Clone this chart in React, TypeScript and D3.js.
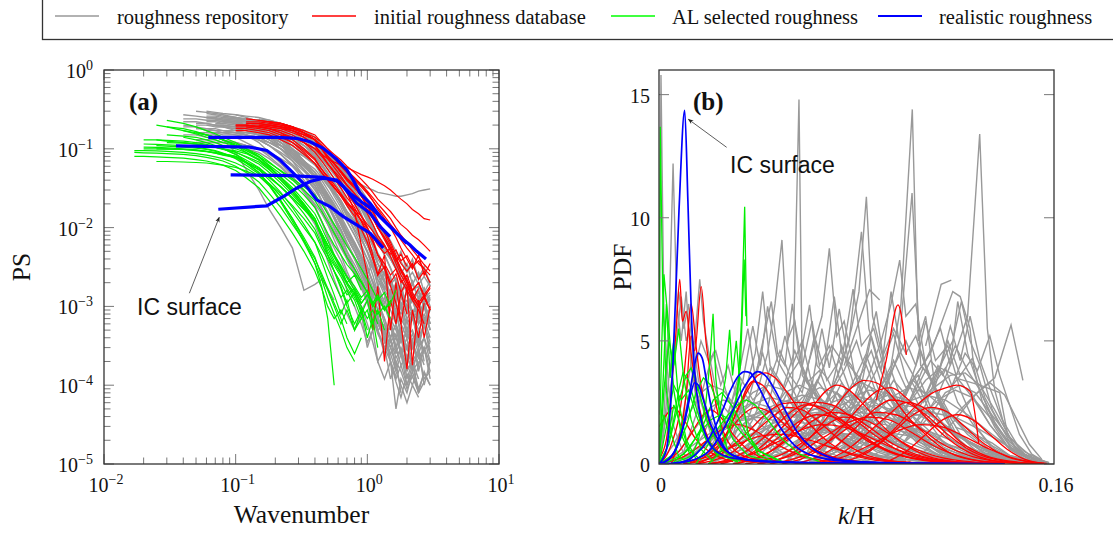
import React from 'react';
import * as d3 from 'd3';

// ---------------- legend ----------------
const legendLabels = ['roughness repository', 'initial roughness database', 'AL selected roughness', 'realistic roughness'];
const legendColors = ['#999999', '#ff0000', '#00ff00', '#0000ff'];

// ---------------- panel (a): power spectra ----------------
const wavenumbers = [0.017, 0.02, 0.025, 0.03, 0.04, 0.05, 0.06, 0.07, 0.08, 0.1, 0.12, 0.15, 0.18, 0.22, 0.27, 0.33, 0.4, 0.45, 0.5, 0.56, 0.63, 0.7, 0.8, 0.9, 1.0, 1.1, 1.2, 1.35, 1.5, 1.65, 1.8, 2.0, 2.2, 2.45, 2.7, 3.0];

type GridCurve = { s: number; v: number[] };

const psGray: GridCurve[] = [
  { s: 4, v: [0.27, 0.26, 0.25, 0.24, 0.23, 0.22, 0.2, 0.18, 0.16, 0.13, 0.1, 0.07, 0.05, 0.04, 0.03, 0.022, 0.016, 0.012, 0.008, 0.0055, 0.004, 0.003, 0.0022, 0.0016, 0.0012, 0.0008, 0.0011, 0.0007, 0.0009, 0.0006, 0.0008, 0.0005] },
  { s: 5, v: [0.3, 0.29, 0.28, 0.27, 0.25, 0.23, 0.2, 0.17, 0.14, 0.11, 0.085, 0.065, 0.05, 0.038, 0.028, 0.02, 0.014, 0.0095, 0.007, 0.005, 0.0035, 0.0025, 0.0018, 0.0013, 0.0009, 0.0006, 0.0004, 0.0005, 0.0003, 0.0004, 0.00025] },
  { s: 6, v: [0.25, 0.25, 0.24, 0.23, 0.22, 0.2, 0.17, 0.14, 0.1, 0.07, 0.045, 0.03, 0.02, 0.013, 0.008, 0.005, 0.003, 0.002, 0.0012, 0.0008, 0.0005, 0.0003, 0.0002, 0.00012, 0.00018, 0.0001, 0.00015, 0.00008] },
  { s: 4, v: [0.22, 0.22, 0.21, 0.2, 0.19, 0.17, 0.15, 0.12, 0.09, 0.065, 0.045, 0.03, 0.02, 0.015, 0.011, 0.008, 0.0055, 0.004, 0.0025, 0.0018, 0.0013, 0.0009, 0.0007, 0.0005, 0.0003, 0.0004, 0.00025, 0.00015, 0.0002, 0.00012] },
  { s: 7, v: [0.24, 0.24, 0.23, 0.22, 0.21, 0.19, 0.17, 0.14, 0.11, 0.08, 0.06, 0.048, 0.038, 0.028, 0.02, 0.015, 0.01, 0.007, 0.005, 0.0035, 0.0025, 0.0018, 0.0015, 0.001, 0.0012, 0.0008, 0.001, 0.0007, 0.0009] },
  { s: 8, v: [0.26, 0.25, 0.24, 0.23, 0.21, 0.19, 0.16, 0.13, 0.1, 0.08, 0.065, 0.05, 0.04, 0.03, 0.023, 0.017, 0.012, 0.009, 0.007, 0.005, 0.004, 0.003, 0.0025, 0.002, 0.0016, 0.0018, 0.0013, 0.0015] },
  { s: 9, v: [0.2, 0.2, 0.19, 0.18, 0.16, 0.13, 0.1, 0.075, 0.05, 0.04, 0.03, 0.02, 0.014, 0.009, 0.006, 0.004, 0.0025, 0.0015, 0.001, 0.0006, 0.0004, 0.0005, 0.0003, 0.00018, 0.00025, 0.00012, 0.00015] },
  { s: 5, v: [0.18, 0.18, 0.17, 0.17, 0.16, 0.15, 0.13, 0.11, 0.085, 0.06, 0.04, 0.027, 0.018, 0.013, 0.009, 0.006, 0.004, 0.0026, 0.0017, 0.0011, 0.0007, 0.00045, 0.0003, 0.0004, 0.00022, 0.0003, 0.00016, 0.0002] },
  { s: 10, v: [0.22, 0.22, 0.21, 0.2, 0.19, 0.17, 0.14, 0.11, 0.09, 0.07, 0.055, 0.04, 0.03, 0.022, 0.016, 0.011, 0.008, 0.006, 0.004, 0.003, 0.0022, 0.0016, 0.0012, 0.0015, 0.001, 0.0012] },
  { s: 6, v: [0.2, 0.2, 0.2, 0.19, 0.18, 0.16, 0.14, 0.11, 0.08, 0.055, 0.035, 0.022, 0.015, 0.01, 0.0065, 0.0042, 0.0028, 0.0018, 0.0012, 0.0008, 0.0005, 0.0006, 0.00035, 0.00045, 0.00025, 0.0003, 0.0002, 0.00028, 0.00018] },
  { s: 4, v: [0.2, 0.19, 0.17, 0.15, 0.13, 0.09, 0.055, 0.03, 0.017, 0.01, 0.0055, 0.0016, 0.0019, 0.0022, 0.0017, 0.0012] },
  { s: 6, v: [0.28, 0.27, 0.26, 0.25, 0.23, 0.2, 0.17, 0.13, 0.1, 0.07, 0.05, 0.034, 0.026, 0.019, 0.013, 0.009, 0.0065, 0.0045, 0.003, 0.002, 0.0012, 0.0006, 0.0002, 0.00005, 0.00012, 0.00008, 0.00015] },
  { s: 7, v: [0.23, 0.22, 0.21, 0.2, 0.18, 0.15, 0.12, 0.09, 0.065, 0.045, 0.03, 0.022, 0.016, 0.011, 0.0075, 0.005, 0.0032, 0.002, 0.0012, 0.0007, 0.0004, 0.0002, 0.00011, 0.00007, 0.00014, 0.0001, 0.00018] },
  { s: 5, v: [0.16, 0.16, 0.16, 0.15, 0.15, 0.14, 0.13, 0.11, 0.09, 0.07, 0.052, 0.038, 0.028, 0.022, 0.016, 0.012, 0.0085, 0.006, 0.0042, 0.003, 0.0021, 0.0015, 0.001, 0.0007, 0.0005, 0.00035, 0.00045, 0.0003, 0.0004, 0.00028, 0.00035] },
  { s: 9, v: [0.25, 0.24, 0.23, 0.22, 0.2, 0.18, 0.15, 0.12, 0.095, 0.075, 0.06, 0.045, 0.035, 0.026, 0.019, 0.014, 0.01, 0.0075, 0.0055, 0.004, 0.003, 0.0022, 0.0017, 0.0013, 0.0016, 0.0011, 0.0014] },
  { s: 8, v: [0.22, 0.21, 0.2, 0.19, 0.17, 0.15, 0.13, 0.11, 0.09, 0.075, 0.063, 0.055, 0.05, 0.045, 0.04, 0.035, 0.032, 0.03, 0.028, 0.027, 0.026, 0.025, 0.025, 0.026, 0.027, 0.029, 0.03, 0.031] },
  { s: 5, v: [0.15, 0.15, 0.15, 0.14, 0.14, 0.12, 0.1, 0.08, 0.06, 0.042, 0.028, 0.018, 0.012, 0.008, 0.0055, 0.0038, 0.0025, 0.0016, 0.001, 0.0006, 0.00035, 0.0002, 0.00012, 0.0002, 0.00013] },
  { s: 10, v: [0.19, 0.19, 0.18, 0.17, 0.15, 0.13, 0.11, 0.085, 0.065, 0.05, 0.038, 0.028, 0.02, 0.014, 0.01, 0.007, 0.0048, 0.0033, 0.0022, 0.0015, 0.001, 0.0006, 0.0008, 0.0005, 0.0007, 0.0004] },
  { s: 6, v: [0.3, 0.29, 0.28, 0.27, 0.25, 0.22, 0.19, 0.15, 0.12, 0.09, 0.065, 0.045, 0.035, 0.027, 0.02, 0.015, 0.011, 0.008, 0.006, 0.0042, 0.003, 0.0021, 0.0015, 0.0011, 0.0008, 0.001, 0.0007, 0.0009, 0.0006] },
  { s: 7, v: [0.21, 0.21, 0.2, 0.19, 0.17, 0.14, 0.11, 0.08, 0.055, 0.038, 0.026, 0.019, 0.013, 0.009, 0.006, 0.004, 0.0026, 0.0017, 0.0011, 0.0007, 0.00045, 0.0003, 0.0002, 0.00015, 0.00009, 0.00013, 0.00008, 0.00011] },
  { s: 11, v: [0.24, 0.23, 0.21, 0.19, 0.16, 0.13, 0.1, 0.08, 0.065, 0.05, 0.038, 0.028, 0.02, 0.015, 0.011, 0.008, 0.006, 0.0043, 0.0031, 0.0022, 0.0016, 0.0019, 0.0013, 0.0017, 0.0012] },
  { s: 4, v: [0.24, 0.24, 0.23, 0.23, 0.22, 0.21, 0.19, 0.16, 0.13, 0.1, 0.07, 0.045, 0.03, 0.022, 0.015, 0.01, 0.0068, 0.0045, 0.003, 0.002, 0.0013, 0.0009, 0.0006, 0.0004, 0.00025, 0.0003, 0.00018, 0.00024, 0.00015, 0.0002] },
  { s: 8, v: [0.17, 0.17, 0.16, 0.16, 0.15, 0.14, 0.12, 0.1, 0.08, 0.062, 0.048, 0.037, 0.028, 0.021, 0.015, 0.011, 0.008, 0.0058, 0.004, 0.0029, 0.002, 0.0014, 0.0017, 0.001, 0.0013, 0.0008, 0.0011, 0.0007] },
  { s: 9, v: [0.14, 0.14, 0.13, 0.12, 0.11, 0.095, 0.08, 0.065, 0.05, 0.04, 0.03, 0.022, 0.016, 0.011, 0.0075, 0.005, 0.0033, 0.0022, 0.0014, 0.0009, 0.0006, 0.0004, 0.00028, 0.00035, 0.00022, 0.0003, 0.00019] },
  { s: 6, v: [0.12, 0.12, 0.12, 0.12, 0.11, 0.1, 0.09, 0.075, 0.06, 0.045, 0.032, 0.022, 0.016, 0.011, 0.0075, 0.005, 0.0034, 0.0023, 0.0015, 0.001, 0.00065, 0.0004, 0.00025, 0.00015, 0.0001, 0.00006, 0.0001, 0.00007] },
  { s: 12, v: [0.2, 0.19, 0.17, 0.15, 0.12, 0.1, 0.08, 0.065, 0.052, 0.042, 0.033, 0.025, 0.019, 0.014, 0.01, 0.0075, 0.0055, 0.004, 0.003, 0.0022, 0.0027, 0.0019, 0.0024, 0.0018] },
  { s: 5, v: [0.2, 0.2, 0.19, 0.19, 0.18, 0.17, 0.15, 0.13, 0.11, 0.09, 0.07, 0.055, 0.043, 0.034, 0.027, 0.021, 0.016, 0.012, 0.009, 0.0065, 0.0048, 0.0035, 0.0026, 0.0019, 0.0023, 0.0015, 0.0019, 0.0012, 0.0016, 0.001, 0.0013] },
  { s: 7, v: [0.19, 0.19, 0.18, 0.17, 0.15, 0.13, 0.1, 0.075, 0.055, 0.04, 0.03, 0.022, 0.016, 0.011, 0.0075, 0.005, 0.0032, 0.0018, 0.001, 0.0005, 0.00025, 0.0004, 0.00015, 0.00025, 0.0001, 0.00018, 0.00009, 0.00014, 0.0001] },
  { s: 6, v: [0.22, 0.22, 0.21, 0.2, 0.19, 0.17, 0.15, 0.12, 0.095, 0.07, 0.05, 0.036, 0.027, 0.02, 0.014, 0.01, 0.0065, 0.004, 0.0025, 0.0015, 0.0009, 0.0005, 0.0003, 0.00018, 0.0003, 0.00012, 0.0002, 0.00008, 0.00015, 0.0001] },
  { s: 8, v: [0.25, 0.24, 0.23, 0.22, 0.2, 0.18, 0.16, 0.14, 0.12, 0.1, 0.085, 0.07, 0.058, 0.048, 0.038, 0.03, 0.023, 0.017, 0.012, 0.008, 0.0055, 0.0035, 0.005, 0.0028, 0.004, 0.0022, 0.0032, 0.0018] },
  { s: 10, v: [0.21, 0.21, 0.2, 0.19, 0.17, 0.15, 0.12, 0.095, 0.075, 0.06, 0.045, 0.033, 0.023, 0.015, 0.0095, 0.006, 0.0035, 0.0022, 0.0013, 0.0008, 0.0005, 0.0003, 0.00045, 0.00025, 0.0004, 0.0002] },
  { s: 4, v: [0.19, 0.19, 0.18, 0.18, 0.17, 0.16, 0.15, 0.13, 0.11, 0.085, 0.063, 0.046, 0.034, 0.026, 0.019, 0.014, 0.0095, 0.0065, 0.0042, 0.0028, 0.0018, 0.0011, 0.0007, 0.0004, 0.00055, 0.0003, 0.00045, 0.00022, 0.00035, 0.00018, 0.0003, 0.00015] },
  { s: 9, v: [0.27, 0.26, 0.25, 0.23, 0.21, 0.18, 0.15, 0.12, 0.1, 0.082, 0.068, 0.055, 0.045, 0.036, 0.028, 0.021, 0.015, 0.011, 0.0075, 0.005, 0.0033, 0.0022, 0.0015, 0.0021, 0.0012, 0.0017, 0.001] },
  { s: 11, v: [0.18, 0.18, 0.17, 0.16, 0.14, 0.12, 0.1, 0.082, 0.067, 0.055, 0.044, 0.035, 0.027, 0.021, 0.016, 0.012, 0.009, 0.0068, 0.005, 0.0037, 0.0027, 0.0035, 0.0024, 0.003, 0.002] },
  { s: 6, v: [0.17, 0.17, 0.16, 0.16, 0.15, 0.14, 0.12, 0.1, 0.08, 0.06, 0.045, 0.033, 0.025, 0.018, 0.013, 0.009, 0.006, 0.004, 0.0026, 0.0017, 0.0011, 0.0007, 0.0004, 0.0006, 0.00035, 0.0005, 0.0003, 0.00045, 0.00025] },
  { s: 12, v: [0.17, 0.16, 0.15, 0.13, 0.11, 0.09, 0.07, 0.055, 0.043, 0.033, 0.025, 0.018, 0.013, 0.0092, 0.0065, 0.0045, 0.003, 0.002, 0.0013, 0.0009, 0.0012, 0.0007, 0.001, 0.0006] },
  { s: 5, v: [0.13, 0.13, 0.13, 0.12, 0.12, 0.11, 0.1, 0.085, 0.068, 0.05, 0.036, 0.025, 0.017, 0.011, 0.007, 0.0045, 0.0028, 0.0017, 0.0009, 0.0012, 0.0005, 0.0008, 0.00035, 0.0006, 0.00025, 0.0004, 0.00018, 0.0003] },
  { s: 9, v: [0.16, 0.16, 0.15, 0.14, 0.12, 0.1, 0.08, 0.062, 0.048, 0.038, 0.029, 0.022, 0.016, 0.012, 0.0085, 0.006, 0.0042, 0.0029, 0.002, 0.0014, 0.001, 0.0007, 0.0005, 0.0007, 0.0004, 0.0006, 0.00035] },
  { s: 7, v: [0.2, 0.2, 0.19, 0.18, 0.16, 0.14, 0.11, 0.085, 0.062, 0.045, 0.032, 0.023, 0.016, 0.011, 0.0075, 0.005, 0.0033, 0.0021, 0.0013, 0.0018, 0.0009, 0.0014, 0.0006, 0.001, 0.0004, 0.0008, 0.0003, 0.0006, 0.00025] },
  { s: 8, v: [0.23, 0.22, 0.21, 0.2, 0.18, 0.16, 0.13, 0.1, 0.075, 0.055, 0.04, 0.029, 0.021, 0.015, 0.0105, 0.0072, 0.0048, 0.0031, 0.0019, 0.0011, 0.0016, 0.0007, 0.0011, 0.0005, 0.0008, 0.00035, 0.0006, 0.00028] },
  { s: 6, v: [0.24, 0.24, 0.23, 0.22, 0.2, 0.18, 0.15, 0.12, 0.09, 0.065, 0.046, 0.033, 0.024, 0.017, 0.012, 0.0082, 0.0055, 0.0036, 0.0023, 0.0014, 0.0009, 0.0013, 0.0006, 0.0009, 0.0004, 0.0007, 0.0003, 0.0005, 0.0002] },
  { s: 9, v: [0.22, 0.22, 0.21, 0.19, 0.17, 0.14, 0.11, 0.085, 0.065, 0.05, 0.037, 0.027, 0.019, 0.013, 0.009, 0.006, 0.0039, 0.0025, 0.0016, 0.0022, 0.0011, 0.0017, 0.0008, 0.0013, 0.0006, 0.001, 0.0005] },
  { s: 10, v: [0.18, 0.18, 0.17, 0.16, 0.14, 0.12, 0.095, 0.072, 0.055, 0.042, 0.031, 0.022, 0.015, 0.01, 0.0065, 0.0042, 0.0027, 0.0017, 0.0024, 0.0012, 0.0019, 0.0009, 0.0015, 0.0007, 0.0012, 0.0006] },
  { s: 5, v: [0.21, 0.21, 0.2, 0.2, 0.19, 0.18, 0.16, 0.14, 0.11, 0.085, 0.063, 0.046, 0.034, 0.025, 0.018, 0.013, 0.009, 0.006, 0.004, 0.0026, 0.0035, 0.0018, 0.0027, 0.0013, 0.002, 0.001, 0.0016, 0.0008, 0.0013, 0.0006, 0.001] },
  { s: 7, v: [0.16, 0.16, 0.15, 0.15, 0.14, 0.12, 0.1, 0.08, 0.06, 0.043, 0.03, 0.021, 0.014, 0.0095, 0.0062, 0.004, 0.0026, 0.0017, 0.0011, 0.0007, 0.00045, 0.0007, 0.0003, 0.0005, 0.0002, 0.0004, 0.00015, 0.0003, 0.00012] },
  { s: 11, v: [0.2, 0.2, 0.19, 0.17, 0.15, 0.12, 0.095, 0.075, 0.058, 0.045, 0.034, 0.025, 0.018, 0.013, 0.0092, 0.0065, 0.0045, 0.0031, 0.0021, 0.0014, 0.0009, 0.0013, 0.0007, 0.0011, 0.0006] },
  { s: 8, v: [0.19, 0.19, 0.18, 0.17, 0.15, 0.13, 0.11, 0.085, 0.065, 0.048, 0.035, 0.025, 0.018, 0.012, 0.008, 0.0052, 0.0033, 0.002, 0.0012, 0.0007, 0.0004, 0.0006, 0.00025, 0.0004, 0.00015, 0.0003, 0.0001, 0.0002] },
  { s: 6, v: [0.26, 0.26, 0.25, 0.24, 0.22, 0.2, 0.17, 0.14, 0.11, 0.085, 0.065, 0.05, 0.038, 0.029, 0.022, 0.016, 0.012, 0.0085, 0.006, 0.0042, 0.0029, 0.002, 0.0014, 0.0019, 0.001, 0.0015, 0.0008, 0.0012, 0.0006, 0.0009] },
  { s: 9, v: [0.2, 0.2, 0.19, 0.18, 0.16, 0.14, 0.12, 0.095, 0.075, 0.06, 0.047, 0.036, 0.027, 0.02, 0.014, 0.01, 0.0068, 0.0045, 0.003, 0.002, 0.0013, 0.0019, 0.0009, 0.0014, 0.0007, 0.0011, 0.0005] },
  { s: 10, v: [0.23, 0.23, 0.22, 0.21, 0.19, 0.17, 0.14, 0.11, 0.09, 0.072, 0.057, 0.045, 0.035, 0.027, 0.02, 0.015, 0.011, 0.0078, 0.0055, 0.0038, 0.0026, 0.0035, 0.0019, 0.0027, 0.0015, 0.0021] },
  { s: 4, v: [0.15, 0.15, 0.14, 0.14, 0.13, 0.12, 0.1, 0.08, 0.06, 0.042, 0.028, 0.018, 0.011, 0.0065, 0.0038, 0.0022, 0.0013, 0.0008, 0.0005, 0.0008, 0.0003, 0.0005] },
  { s: 5, v: [0.12, 0.12, 0.12, 0.11, 0.11, 0.1, 0.09, 0.075, 0.058, 0.042, 0.029, 0.019, 0.012, 0.0075, 0.0045, 0.0027, 0.0016, 0.001, 0.0006, 0.00035, 0.0005, 0.0002, 0.0003, 0.00012, 0.0002, 0.00008] },
];

const psRed: GridCurve[] = [
  { s: 9, v: [0.2, 0.2, 0.19, 0.18, 0.16, 0.14, 0.12, 0.1, 0.085, 0.075, 0.068, 0.062, 0.058, 0.052, 0.047, 0.044, 0.041, 0.038, 0.034, 0.03, 0.026, 0.023, 0.02, 0.017, 0.015, 0.013, 0.0125] },
  { s: 10, v: [0.22, 0.22, 0.21, 0.2, 0.18, 0.16, 0.13, 0.11, 0.09, 0.075, 0.06, 0.05, 0.04, 0.033, 0.027, 0.022, 0.018, 0.014, 0.011, 0.009, 0.007, 0.0055, 0.0045, 0.0035, 0.003, 0.0025] },
  { s: 9, v: [0.2, 0.2, 0.19, 0.18, 0.16, 0.13, 0.1, 0.075, 0.055, 0.045, 0.035, 0.027, 0.021, 0.016, 0.012, 0.009, 0.0065, 0.0045, 0.0035, 0.0025, 0.003, 0.002, 0.0025, 0.0016, 0.002, 0.0014, 0.0018] },
  { s: 11, v: [0.23, 0.22, 0.21, 0.19, 0.16, 0.13, 0.1, 0.08, 0.065, 0.052, 0.042, 0.034, 0.027, 0.021, 0.016, 0.012, 0.0085, 0.006, 0.0042, 0.003, 0.0022, 0.0016, 0.002, 0.0013, 0.0017] },
  { s: 10, v: [0.19, 0.19, 0.18, 0.17, 0.15, 0.12, 0.09, 0.07, 0.055, 0.042, 0.032, 0.024, 0.018, 0.012, 0.008, 0.0045, 0.0025, 0.0045, 0.0005, 0.002, 0.0006, 0.0018, 0.00018, 0.0012, 0.0004, 0.001] },
  { s: 12, v: [0.2, 0.19, 0.18, 0.16, 0.13, 0.1, 0.08, 0.064, 0.05, 0.04, 0.032, 0.025, 0.019, 0.014, 0.01, 0.0075, 0.0055, 0.004, 0.0028, 0.002, 0.0014, 0.001, 0.0013, 0.0009] },
  { s: 9, v: [0.18, 0.18, 0.17, 0.16, 0.14, 0.12, 0.09, 0.065, 0.05, 0.04, 0.032, 0.026, 0.021, 0.017, 0.014, 0.011, 0.009, 0.0072, 0.0058, 0.0046, 0.0052, 0.0038, 0.0044, 0.0032, 0.0038, 0.003] },
  { s: 11, v: [0.21, 0.2, 0.19, 0.17, 0.14, 0.11, 0.085, 0.065, 0.05, 0.038, 0.028, 0.016, 0.006, 0.0025, 0.0005, 0.0018, 0.0002, 0.0012, 0.0006, 0.0015, 0.0008] },
  { s: 10, v: [0.24, 0.23, 0.22, 0.21, 0.19, 0.16, 0.13, 0.1, 0.08, 0.065, 0.05, 0.04, 0.032, 0.025, 0.019, 0.014, 0.01, 0.007, 0.005, 0.0035, 0.0025, 0.0018, 0.0013, 0.001, 0.0013, 0.0009] },
  { s: 13, v: [0.15, 0.14, 0.12, 0.1, 0.08, 0.065, 0.052, 0.042, 0.034, 0.027, 0.022, 0.017, 0.013, 0.01, 0.0075, 0.0055, 0.004, 0.0029, 0.0021, 0.0015, 0.0011, 0.0014, 0.0009] },
  { s: 9, v: [0.17, 0.17, 0.16, 0.15, 0.13, 0.11, 0.085, 0.065, 0.05, 0.04, 0.032, 0.025, 0.02, 0.016, 0.0125, 0.0098, 0.0076, 0.006, 0.0047, 0.0055, 0.0038, 0.0046, 0.0032] },
  { s: 11, v: [0.2, 0.2, 0.19, 0.18, 0.16, 0.14, 0.12, 0.1, 0.085, 0.072, 0.06, 0.05, 0.041, 0.034, 0.028, 0.023, 0.019, 0.016, 0.013, 0.011, 0.0095, 0.008, 0.007, 0.006, 0.005] },
  { s: 10, v: [0.2, 0.2, 0.19, 0.18, 0.16, 0.14, 0.11, 0.085, 0.065, 0.05, 0.038, 0.028, 0.02, 0.014, 0.01, 0.007, 0.0045, 0.003, 0.0018, 0.0011, 0.0006, 0.00016, 0.0009, 0.0004, 0.0011] },
  { s: 12, v: [0.22, 0.21, 0.19, 0.16, 0.13, 0.1, 0.075, 0.058, 0.045, 0.035, 0.027, 0.02, 0.015, 0.011, 0.008, 0.006, 0.0043, 0.003, 0.0022, 0.0016, 0.0012, 0.0009, 0.0006] },
  { s: 10, v: [0.21, 0.21, 0.2, 0.19, 0.17, 0.15, 0.13, 0.1, 0.08, 0.065, 0.052, 0.042, 0.034, 0.027, 0.021, 0.016, 0.012, 0.009, 0.0065, 0.0045, 0.0035, 0.0028, 0.0035, 0.0022, 0.0028, 0.002] },
  { s: 11, v: [0.19, 0.19, 0.18, 0.17, 0.15, 0.13, 0.11, 0.09, 0.075, 0.062, 0.051, 0.042, 0.035, 0.029, 0.024, 0.02, 0.016, 0.013, 0.01, 0.008, 0.0065, 0.0052, 0.0042, 0.0034, 0.0028] },
  { s: 9, v: [0.19, 0.19, 0.18, 0.17, 0.15, 0.12, 0.095, 0.072, 0.055, 0.043, 0.033, 0.025, 0.019, 0.014, 0.0095, 0.0065, 0.004, 0.0025, 0.0032, 0.002, 0.0026, 0.0015, 0.0021, 0.0012, 0.0017] },
  { s: 12, v: [0.21, 0.2, 0.19, 0.17, 0.15, 0.12, 0.1, 0.08, 0.065, 0.053, 0.043, 0.035, 0.028, 0.022, 0.017, 0.013, 0.01, 0.0075, 0.0055, 0.004, 0.003, 0.0045, 0.0025, 0.0035] },
];

const psGreen: GridCurve[] = [
  { s: 0, v: [0.095, 0.095, 0.094, 0.093, 0.09, 0.087, 0.083, 0.079, 0.075, 0.066, 0.057, 0.045, 0.034, 0.022, 0.013, 0.007, 0.0035, 0.0018, 0.0007, 0.0001] },
  { s: 1, v: [0.115, 0.114, 0.112, 0.11, 0.105, 0.1, 0.095, 0.088, 0.075, 0.062, 0.048, 0.036, 0.025, 0.016, 0.01, 0.0065, 0.0045, 0.003, 0.002, 0.0013, 0.0016, 0.001] },
  { s: 3, v: [0.23, 0.21, 0.19, 0.17, 0.155, 0.14, 0.12, 0.1, 0.08, 0.06, 0.043, 0.03, 0.02, 0.013, 0.0085, 0.006, 0.0042, 0.003, 0.002, 0.0025, 0.0016] },
  { s: 2, v: [0.069, 0.069, 0.068, 0.067, 0.066, 0.064, 0.062, 0.058, 0.052, 0.045, 0.036, 0.027, 0.019, 0.013, 0.0085, 0.0055, 0.004, 0.0028, 0.002, 0.0014, 0.0017, 0.0012] },
  { s: 3, v: [0.19, 0.18, 0.165, 0.15, 0.14, 0.13, 0.115, 0.1, 0.085, 0.068, 0.052, 0.04, 0.03, 0.022, 0.016, 0.012, 0.0085, 0.006, 0.0042, 0.003, 0.0021, 0.0015, 0.001, 0.0013, 0.0009, 0.0012] },
  { s: 0, v: [0.08, 0.08, 0.079, 0.078, 0.076, 0.073, 0.07, 0.066, 0.062, 0.053, 0.043, 0.032, 0.022, 0.014, 0.0085, 0.005, 0.0028, 0.0017, 0.001, 0.0007, 0.0009, 0.0006] },
  { s: 1, v: [0.105, 0.104, 0.103, 0.1, 0.097, 0.093, 0.088, 0.083, 0.077, 0.066, 0.055, 0.043, 0.033, 0.024, 0.017, 0.012, 0.0085, 0.006, 0.0045, 0.0032, 0.0023, 0.0016, 0.0011, 0.0014] },
  { s: 4, v: [0.14, 0.13, 0.12, 0.11, 0.1, 0.085, 0.072, 0.058, 0.045, 0.033, 0.024, 0.017, 0.012, 0.0085, 0.006, 0.0045, 0.0033, 0.0024, 0.0018, 0.0013, 0.0016, 0.0011, 0.0014, 0.0009] },
  { s: 2, v: [0.2, 0.19, 0.17, 0.155, 0.14, 0.13, 0.12, 0.11, 0.09, 0.072, 0.055, 0.04, 0.028, 0.019, 0.012, 0.0075, 0.0045, 0.0028, 0.0017, 0.001, 0.0006, 0.0009, 0.0005] },
  { s: 3, v: [0.12, 0.118, 0.115, 0.11, 0.105, 0.1, 0.094, 0.087, 0.072, 0.058, 0.044, 0.032, 0.022, 0.015, 0.01, 0.0068, 0.0045, 0.003, 0.002, 0.0014, 0.001, 0.0007, 0.0009, 0.0006] },
  { s: 1, v: [0.1, 0.1, 0.099, 0.098, 0.095, 0.092, 0.088, 0.084, 0.079, 0.068, 0.057, 0.044, 0.033, 0.023, 0.015, 0.0095, 0.006, 0.0045, 0.0033, 0.0024, 0.0017, 0.0012, 0.0007, 0.0009, 0.0005] },
  { s: 4, v: [0.17, 0.16, 0.15, 0.14, 0.13, 0.11, 0.095, 0.078, 0.062, 0.048, 0.036, 0.026, 0.018, 0.012, 0.0085, 0.006, 0.0045, 0.0034, 0.0026, 0.002, 0.0015, 0.0011, 0.0008, 0.001, 0.0007] },
  { s: 2, v: [0.13, 0.125, 0.12, 0.115, 0.11, 0.104, 0.098, 0.091, 0.078, 0.064, 0.05, 0.037, 0.026, 0.018, 0.012, 0.008, 0.0055, 0.0038, 0.0027, 0.0019, 0.0013, 0.0009] },
  { s: 5, v: [0.16, 0.15, 0.14, 0.13, 0.11, 0.095, 0.08, 0.066, 0.053, 0.042, 0.033, 0.026, 0.02, 0.015, 0.011, 0.008, 0.0058, 0.0042, 0.003, 0.0022, 0.0016, 0.0012, 0.0015, 0.001] },
  { s: 0, v: [0.09, 0.089, 0.088, 0.087, 0.085, 0.082, 0.078, 0.074, 0.07, 0.06, 0.05, 0.038, 0.027, 0.018, 0.011, 0.0068, 0.004, 0.0026, 0.0017, 0.0011, 0.0007, 0.0004, 0.00025, 0.0004] },
  { s: 1, v: [0.13, 0.13, 0.128, 0.125, 0.12, 0.114, 0.107, 0.1, 0.085, 0.068, 0.05, 0.034, 0.021, 0.012, 0.0065, 0.0035, 0.0022, 0.0013, 0.0008, 0.0005, 0.0003, 0.0002] },
  { s: 3, v: [0.15, 0.145, 0.14, 0.13, 0.12, 0.11, 0.1, 0.09, 0.074, 0.058, 0.043, 0.03, 0.02, 0.013, 0.008, 0.005, 0.0035, 0.0026, 0.002, 0.0015, 0.0011, 0.0014, 0.001, 0.0013, 0.0009, 0.0011, 0.0016] },
  { s: 2, v: [0.11, 0.108, 0.105, 0.102, 0.098, 0.093, 0.087, 0.08, 0.066, 0.05, 0.035, 0.022, 0.013, 0.0075, 0.0042, 0.0024, 0.0016, 0.001, 0.0006, 0.0009, 0.0005, 0.0007] },
  { s: 2, v: [0.1, 0.1, 0.098, 0.096, 0.093, 0.09, 0.086, 0.08, 0.068, 0.054, 0.04, 0.028, 0.018, 0.011, 0.0065, 0.0038, 0.0023, 0.0014, 0.0008, 0.0012, 0.0005, 0.0009, 0.0004, 0.0007, 0.0003] },
  { s: 4, v: [0.12, 0.115, 0.11, 0.105, 0.1, 0.09, 0.08, 0.068, 0.054, 0.04, 0.028, 0.019, 0.012, 0.0075, 0.0045, 0.0028, 0.0018, 0.0011, 0.0015, 0.0008, 0.0012, 0.0006, 0.0009, 0.0005] },
];

const psBlue: [number, number][][] = [
  [[0.062, 0.14], [0.108, 0.14], [0.205, 0.14], [0.29, 0.136], [0.367, 0.123], [0.46, 0.102], [0.585, 0.0736], [0.7, 0.054], [0.78, 0.0403], [0.88, 0.0273], [1.05, 0.0204], [1.25, 0.0138], [1.49, 0.0103], [1.88, 0.007], [2.11, 0.006], [2.37, 0.005], [2.79, 0.004]],
  [[0.0352, 0.109], [0.128, 0.105], [0.172, 0.095], [0.217, 0.0723], [0.274, 0.049], [0.346, 0.0332], [0.412, 0.0225], [0.52, 0.0185], [0.657, 0.0138], [0.83, 0.0108], [1.05, 0.0085], [1.32, 0.0055]],
  [[0.0916, 0.0466], [0.259, 0.0457], [0.463, 0.0435], [0.603, 0.0384], [0.738, 0.0273], [0.933, 0.0204], [1.11, 0.0168], [1.32, 0.0125], [1.57, 0.0094], [1.99, 0.0063]],
  [[0.0738, 0.0171], [0.172, 0.0189], [0.23, 0.0248], [0.29, 0.0316], [0.367, 0.0384], [0.463, 0.0423], [0.585, 0.0403], [0.657, 0.0332], [0.83, 0.0204], [1.05, 0.0152], [1.25, 0.0103], [1.49, 0.0077]],
];

// ---------------- panel (b): PDF of k/H ----------------
const pdfGray: [number, number][][] = [
  [[0, 2], [0.0008, 15.8], [0.002, 6], [0.004, 3], [0.006, 1.5], [0.01, 0.4], [0.015, 0.1]],
  [[0, 0], [0.002, 2.0], [0.004, 5.5], [0.0057, 12.2], [0.0072, 6.5], [0.009, 5.0], [0.011, 7.0], [0.013, 4.0], [0.016, 2.0], [0.02, 0.8], [0.026, 0.2]],
  [[0.005, 0], [0.009, 1.5], [0.012, 3.5], [0.0145, 5.0], [0.0165, 7.5], [0.018, 5.8], [0.02, 4.6], [0.023, 3.0], [0.027, 1.6], [0.033, 0.6], [0.042, 0.15]],
  [[0.035, 0], [0.045, 1.0], [0.05, 2.0], [0.054, 2.8], [0.0567, 14.8], [0.058, 3.6], [0.062, 3.0], [0.068, 2.0], [0.075, 1.0], [0.085, 0.3], [0.1, 0.05]],
  [[0.07, 0.5], [0.08, 1.5], [0.088, 2.8], [0.094, 4.0], [0.098, 6.5], [0.1026, 14.4], [0.105, 5.0], [0.108, 6.0], [0.112, 3.0], [0.118, 1.5], [0.125, 0.5], [0.135, 0.1]],
  [[0.08, 1.0], [0.09, 2.5], [0.097, 4.5], [0.1025, 11.0], [0.106, 4.0], [0.11, 3.5], [0.116, 1.8], [0.124, 0.6], [0.135, 0.1]],
  [[0.095, 0.5], [0.105, 1.5], [0.113, 2.8], [0.12, 4.5], [0.125, 6.0], [0.1299, 13.4], [0.133, 5.5], [0.136, 3.0], [0.14, 1.5], [0.145, 0.5], [0.152, 0.1]],
  [[0.06, 1.0], [0.068, 2.5], [0.074, 4.0], [0.078, 5.5], [0.081, 7.0], [0.084, 10.85], [0.0865, 6.0], [0.089, 5.0], [0.094, 3.0], [0.1, 1.8], [0.108, 0.8], [0.12, 0.2]],
  [[0.055, 0.8], [0.065, 2.0], [0.072, 3.5], [0.077, 5.0], [0.082, 9.43], [0.085, 5.5], [0.089, 4.0], [0.095, 2.5], [0.102, 1.2], [0.112, 0.4], [0.125, 0.05]],
  [[0.025, 0.3], [0.035, 1.5], [0.04, 3.0], [0.044, 4.5], [0.047, 6.5], [0.0498, 9.1], [0.052, 5.0], [0.055, 5.8], [0.058, 4.0], [0.063, 2.5], [0.07, 1.2], [0.08, 0.4], [0.095, 0.05]],
  [[0.045, 0.6], [0.052, 1.8], [0.058, 3.2], [0.062, 4.6], [0.066, 6.0], [0.069, 8.76], [0.072, 5.2], [0.075, 5.8], [0.079, 3.8], [0.085, 2.2], [0.093, 1.0], [0.105, 0.3], [0.12, 0.05]],
  [[0.07, 1.0], [0.078, 2.2], [0.085, 3.6], [0.09, 5.0], [0.094, 6.5], [0.0975, 8.28], [0.1, 6.0], [0.104, 6.5], [0.108, 4.0], [0.114, 2.5], [0.12, 1.3], [0.13, 0.4], [0.145, 0.05]],
  [[0.03, 1.0], [0.036, 2.5], [0.04, 4.0], [0.0455, 6.6], [0.048, 4.5], [0.051, 4.0], [0.054, 6.5], [0.057, 4.2], [0.061, 6.46], [0.064, 4.0], [0.068, 3.5], [0.075, 2.0], [0.085, 0.8], [0.1, 0.15]],
  [[0.05, 1.0], [0.06, 2.5], [0.066, 3.8], [0.07, 4.8], [0.074, 4.2], [0.0786, 7.1], [0.082, 4.8], [0.087, 5.5], [0.092, 3.5], [0.1, 2.0], [0.11, 0.8], [0.125, 0.15]],
  [[0.108, 4.8], [0.1143, 7.3], [0.1184, 7.47]],
  [[0.1, 3.0], [0.11, 4.5], [0.119, 7.0], [0.122, 6.8], [0.126, 5.5], [0.1275, 3.9], [0.131, 2.5], [0.136, 1.5], [0.142, 0.6], [0.15, 0.1]],
  [[0.12, 2.0], [0.13, 3.0], [0.136, 3.5], [0.1426, 5.64], [0.1474, 3.4]],
  [[0.12, 3.5], [0.13, 3.2], [0.138, 2.9], [0.141, 1.3]],
  [[0.12, 1.5], [0.128, 1.2], [0.135, 0.85], [0.142, 0.35], [0.15, 0.1], [0.156, 0]],
  [[0.075, 4.0], [0.0853, 7.07], [0.0894, 6.66]],
  [[0.02, 0.5], [0.028, 2.0], [0.032, 3.5], [0.036, 5.5], [0.039, 3.5], [0.042, 4.5], [0.046, 3.0], [0.052, 2.0], [0.06, 1.0], [0.07, 0.3], [0.085, 0.05]],
  [[0.04, 0.5], [0.05, 2.0], [0.057, 3.5], [0.062, 5.8], [0.065, 4.0], [0.069, 4.8], [0.073, 3.5], [0.08, 2.2], [0.09, 1.0], [0.1, 0.3], [0.115, 0.05]],
  [[0.06, 0.5], [0.07, 1.8], [0.078, 3.2], [0.084, 4.5], [0.088, 6.2], [0.091, 4.2], [0.095, 5.3], [0.1, 3.5], [0.107, 2.0], [0.115, 0.9], [0.125, 0.25], [0.14, 0.03]],
  [[0.075, 0.6], [0.085, 2.0], [0.093, 3.5], [0.1, 5.0], [0.104, 4.0], [0.108, 5.8], [0.112, 4.2], [0.117, 4.8], [0.122, 3.0], [0.128, 1.6], [0.135, 0.6], [0.145, 0.1]],
  [[0.08, 0.5], [0.09, 1.6], [0.1, 3.0], [0.108, 4.2], [0.114, 5.5], [0.118, 4.0], [0.121, 6.6], [0.125, 4.5], [0.13, 3.0], [0.136, 1.6], [0.143, 0.6], [0.152, 0.1]],
  [[0.01, 0.5], [0.015, 2.0], [0.019, 3.5], [0.022, 4.5], [0.025, 3.2], [0.028, 4.0], [0.032, 2.5], [0.037, 1.5], [0.045, 0.6], [0.055, 0.15]],
  [[0.05, 0.3], [0.06, 1.2], [0.068, 2.6], [0.075, 3.8], [0.08, 5.0], [0.083, 4.0], [0.086, 4.6], [0.09, 3.3], [0.096, 2.2], [0.104, 1.1], [0.115, 0.35], [0.13, 0.05]],
  [[0.065, 0.5], [0.075, 1.5], [0.083, 2.8], [0.09, 4.2], [0.095, 5.5], [0.1, 4.5], [0.104, 5.2], [0.109, 3.6], [0.115, 2.4], [0.122, 1.2], [0.132, 0.4], [0.145, 0.05]],
  [[0.085, 0.5], [0.095, 1.5], [0.104, 3.0], [0.11, 4.2], [0.115, 3.6], [0.12, 4.8], [0.125, 3.8], [0.13, 3.0], [0.136, 1.7], [0.142, 0.8], [0.15, 0.2]],
  [[0.095, 1.0], [0.105, 2.2], [0.113, 3.8], [0.119, 5.0], [0.1225, 6.6], [0.126, 5.0], [0.13, 4.0], [0.135, 2.2], [0.142, 0.9], [0.15, 0.2]],
  [[0.03, 0.5], [0.038, 1.8], [0.044, 3.2], [0.049, 4.6], [0.053, 3.6], [0.057, 4.2], [0.062, 3.0], [0.068, 2.0], [0.077, 0.9], [0.09, 0.25]],
  [[0.045, 0.3], [0.055, 1.5], [0.062, 2.8], [0.067, 4.0], [0.071, 6.8], [0.074, 4.5], [0.078, 4.0], [0.083, 2.6], [0.09, 1.4], [0.1, 0.5], [0.112, 0.1]],
  [[0, 0], [0.008, 0.5], [0.015, 1.5], [0.021, 2.3], [0.026, 2.6], [0.032, 2.4], [0.04, 1.7], [0.05, 0.9], [0.062, 0.35], [0.08, 0.08]],
  [[0.005, 0], [0.015, 0.5], [0.024, 1.4], [0.032, 2.2], [0.038, 2.5], [0.045, 2.3], [0.054, 1.7], [0.064, 1.0], [0.076, 0.4], [0.095, 0.08]],
  [[0.01, 0], [0.022, 0.5], [0.032, 1.4], [0.04, 2.1], [0.047, 2.4], [0.055, 2.2], [0.064, 1.6], [0.075, 0.9], [0.088, 0.35], [0.11, 0.05]],
  [[0.02, 0], [0.032, 0.5], [0.042, 1.3], [0.05, 2.0], [0.057, 2.3], [0.065, 2.2], [0.074, 1.6], [0.085, 0.9], [0.098, 0.35], [0.12, 0.05]],
  [[0.03, 0], [0.042, 0.5], [0.052, 1.4], [0.06, 2.1], [0.067, 2.4], [0.075, 2.2], [0.084, 1.6], [0.095, 0.9], [0.108, 0.35], [0.13, 0.05]],
  [[0.04, 0], [0.052, 0.5], [0.062, 1.3], [0.07, 2.0], [0.077, 2.3], [0.085, 2.2], [0.094, 1.6], [0.105, 0.9], [0.118, 0.35], [0.14, 0.05]],
  [[0.05, 0], [0.062, 0.5], [0.072, 1.3], [0.08, 2.0], [0.087, 2.4], [0.095, 2.2], [0.104, 1.6], [0.115, 0.9], [0.127, 0.35], [0.148, 0.05]],
  [[0.06, 0], [0.072, 0.5], [0.082, 1.3], [0.09, 2.0], [0.097, 2.4], [0.105, 2.3], [0.114, 1.7], [0.124, 1.0], [0.136, 0.4], [0.152, 0.06]],
  [[0.07, 0], [0.082, 0.5], [0.092, 1.2], [0.1, 2.0], [0.107, 2.3], [0.115, 2.2], [0.123, 1.6], [0.132, 0.9], [0.142, 0.35], [0.155, 0.05]],
  [[0.008, 0], [0.02, 0.8], [0.03, 2.0], [0.038, 2.9], [0.044, 3.2], [0.051, 3.0], [0.06, 2.2], [0.07, 1.3], [0.083, 0.5], [0.1, 0.1]],
  [[0.025, 0], [0.04, 0.8], [0.05, 1.8], [0.058, 2.7], [0.065, 3.1], [0.072, 2.9], [0.081, 2.2], [0.091, 1.3], [0.103, 0.5], [0.12, 0.1]],
  [[0.045, 0], [0.06, 0.8], [0.07, 1.8], [0.078, 2.7], [0.085, 3.0], [0.092, 2.9], [0.1, 2.2], [0.11, 1.3], [0.121, 0.5], [0.14, 0.1]],
  [[0.06, 0], [0.075, 0.8], [0.086, 1.9], [0.094, 2.7], [0.101, 3.1], [0.108, 2.9], [0.116, 2.2], [0.125, 1.3], [0.135, 0.5], [0.15, 0.1]],
  [[0, 0], [0.006, 0.8], [0.012, 2.0], [0.017, 2.9], [0.021, 3.2], [0.026, 3.0], [0.032, 2.2], [0.04, 1.2], [0.05, 0.45], [0.065, 0.1]],
  [[0.015, 0], [0.025, 0.4], [0.035, 1.0], [0.045, 1.5], [0.055, 1.7], [0.065, 1.6], [0.075, 1.2], [0.087, 0.7], [0.1, 0.3], [0.12, 0.05]],
  [[0.035, 0], [0.05, 0.4], [0.062, 1.0], [0.073, 1.5], [0.082, 1.7], [0.092, 1.6], [0.102, 1.2], [0.113, 0.7], [0.125, 0.3], [0.145, 0.05]],
  [[0.055, 0], [0.07, 0.4], [0.082, 1.0], [0.093, 1.5], [0.102, 1.7], [0.111, 1.6], [0.12, 1.2], [0.13, 0.7], [0.14, 0.3], [0.155, 0.05]],
  [[0.002, 0], [0.01, 0.5], [0.02, 1.2], [0.03, 1.7], [0.04, 1.9], [0.05, 1.7], [0.06, 1.2], [0.072, 0.6], [0.085, 0.2], [0.1, 0.04]],
  [[0.08, 0], [0.095, 0.8], [0.105, 1.8], [0.113, 2.6], [0.12, 3.0], [0.127, 2.7], [0.134, 1.9], [0.141, 1.0], [0.148, 0.4], [0.156, 0.08]],
  [[0.1, 0], [0.11, 0.7], [0.12, 1.8], [0.128, 2.8], [0.134, 3.3], [0.14, 2.8], [0.145, 1.8], [0.15, 0.8], [0.155, 0.2]],
  [[0.075, 0], [0.09, 1.0], [0.1, 2.3], [0.108, 3.4], [0.114, 3.9], [0.12, 3.6], [0.127, 2.7], [0.134, 1.6], [0.142, 0.6], [0.152, 0.1]],
  [[0.085, 0.5], [0.1, 1.8], [0.11, 3.0], [0.118, 3.6], [0.124, 3.7], [0.13, 3.2], [0.136, 2.2], [0.142, 1.1], [0.148, 0.4], [0.155, 0.05]],
  [[0, 0], [0.002, 1.5], [0.004, 3.5], [0.006, 5.0], [0.008, 7.0], [0.01, 5.5], [0.012, 6.5], [0.014, 4.0], [0.017, 2.5], [0.021, 1.2], [0.027, 0.4], [0.035, 0.1]],
  [[0, 0], [0.003, 2.0], [0.006, 4.0], [0.009, 6.8], [0.011, 5.0], [0.013, 5.6], [0.016, 3.4], [0.02, 2.0], [0.025, 0.9], [0.032, 0.3], [0.04, 0.05]],
  [[0.005, 0], [0.01, 1.8], [0.014, 3.6], [0.017, 5.0], [0.02, 4.2], [0.023, 4.6], [0.027, 3.0], [0.032, 1.6], [0.038, 0.7], [0.046, 0.2]],
  [[0.02, 0], [0.03, 1.2], [0.035, 2.8], [0.04, 2.2], [0.045, 3.9], [0.05, 3.0], [0.055, 4.6], [0.06, 3.3], [0.065, 3.8], [0.07, 2.4], [0.078, 1.6], [0.088, 0.7], [0.1, 0.2], [0.115, 0.03]],
  [[0.03, 0], [0.04, 1.0], [0.048, 2.4], [0.053, 3.6], [0.058, 2.9], [0.063, 5.2], [0.068, 3.4], [0.073, 4.2], [0.078, 2.8], [0.085, 1.9], [0.094, 0.9], [0.105, 0.3], [0.12, 0.05]],
  [[0.04, 0], [0.05, 1.0], [0.058, 2.2], [0.064, 3.4], [0.069, 2.7], [0.074, 4.8], [0.079, 3.2], [0.084, 4.0], [0.089, 2.6], [0.096, 1.8], [0.105, 0.8], [0.116, 0.25], [0.13, 0.04]],
  [[0.05, 0], [0.06, 0.9], [0.068, 2.1], [0.074, 3.3], [0.079, 2.6], [0.084, 4.4], [0.089, 3.0], [0.094, 3.8], [0.099, 2.4], [0.106, 1.5], [0.115, 0.7], [0.126, 0.2], [0.14, 0.03]],
  [[0.06, 0], [0.07, 0.9], [0.078, 2.0], [0.085, 3.2], [0.09, 2.5], [0.095, 4.2], [0.1, 3.1], [0.105, 3.6], [0.11, 2.3], [0.117, 1.4], [0.126, 0.6], [0.137, 0.15], [0.15, 0.02]],
  [[0.07, 0], [0.08, 1.0], [0.088, 2.2], [0.095, 3.4], [0.1, 2.8], [0.106, 4.6], [0.111, 3.2], [0.116, 3.9], [0.121, 2.5], [0.128, 1.5], [0.136, 0.6], [0.145, 0.15], [0.155, 0.02]],
  [[0.01, 0], [0.018, 1.2], [0.024, 2.6], [0.028, 2.1], [0.033, 3.5], [0.038, 2.6], [0.043, 3.1], [0.049, 2.0], [0.056, 1.3], [0.065, 0.6], [0.077, 0.15], [0.09, 0.02]],
  [[0.035, 0.2], [0.045, 1.5], [0.052, 2.9], [0.057, 2.3], [0.062, 3.3], [0.067, 2.4], [0.072, 2.9], [0.078, 1.9], [0.085, 1.2], [0.095, 0.5], [0.108, 0.1]],
  [[0.055, 0.2], [0.065, 1.5], [0.072, 2.9], [0.077, 2.3], [0.082, 3.4], [0.087, 2.5], [0.092, 3.0], [0.098, 2.0], [0.105, 1.2], [0.115, 0.5], [0.128, 0.1]],
  [[0.075, 0.2], [0.085, 1.5], [0.092, 2.9], [0.097, 2.3], [0.102, 3.4], [0.107, 2.5], [0.112, 3.1], [0.118, 2.0], [0.125, 1.2], [0.134, 0.5], [0.146, 0.1]],
  [[0.085, 0.5], [0.095, 1.8], [0.103, 3.4], [0.108, 2.8], [0.113, 4.0], [0.118, 3.1], [0.123, 3.7], [0.128, 2.6], [0.134, 1.6], [0.141, 0.7], [0.15, 0.2], [0.158, 0.02]],
  [[0.09, 0.8], [0.1, 2.2], [0.107, 3.9], [0.112, 3.2], [0.117, 5.0], [0.122, 3.6], [0.127, 4.3], [0.132, 2.7], [0.138, 1.6], [0.145, 0.6], [0.153, 0.1]],
  [[0.045, 0.3], [0.055, 1.6], [0.062, 3.2], [0.066, 5.5], [0.069, 3.9], [0.073, 6.3], [0.077, 4.0], [0.082, 3.4], [0.088, 2.2], [0.096, 1.0], [0.108, 0.3], [0.12, 0.05]],
  [[0.065, 0.3], [0.075, 1.6], [0.082, 3.2], [0.086, 5.2], [0.09, 3.8], [0.094, 7.0], [0.098, 4.5], [0.103, 3.6], [0.109, 2.3], [0.117, 1.1], [0.128, 0.3], [0.14, 0.05]],
  [[0.02, 0.3], [0.028, 1.8], [0.034, 3.4], [0.038, 5.6], [0.041, 4.0], [0.044, 6.4], [0.048, 4.2], [0.053, 3.3], [0.059, 2.0], [0.067, 0.9], [0.078, 0.25], [0.09, 0.04]],
  [[0.1, 1.0], [0.108, 2.4], [0.114, 4.0], [0.118, 5.6], [0.122, 4.2], [0.126, 6.0], [0.13, 4.2], [0.134, 3.1], [0.139, 1.8], [0.145, 0.8], [0.152, 0.2]],
  [[0.11, 1.5], [0.118, 3.0], [0.124, 4.5], [0.129, 3.8], [0.134, 5.2], [0.138, 3.6], [0.142, 2.4], [0.146, 1.2], [0.151, 0.4], [0.157, 0.05]],
  [[0.03, 0], [0.04, 0.9], [0.05, 1.8], [0.06, 2.5], [0.07, 2.2], [0.08, 2.7], [0.09, 2.1], [0.1, 1.5], [0.11, 0.8], [0.12, 0.3], [0.135, 0.05]],
  [[0.015, 0], [0.025, 0.8], [0.035, 1.7], [0.045, 2.2], [0.055, 1.9], [0.065, 2.3], [0.075, 1.7], [0.085, 1.1], [0.095, 0.5], [0.11, 0.1]],
  [[0.05, 0], [0.06, 0.8], [0.07, 1.7], [0.08, 2.4], [0.09, 2.0], [0.1, 2.6], [0.11, 2.0], [0.12, 1.3], [0.13, 0.6], [0.142, 0.15], [0.155, 0.02]],
  [[0.025, 0.2], [0.03, 1.5], [0.035, 3.0], [0.039, 4.5], [0.042, 7.0], [0.045, 4.0], [0.05, 3.2], [0.056, 2.0], [0.065, 0.9], [0.078, 0.2]],
  [[0.035, 0.5], [0.043, 2.0], [0.048, 3.8], [0.051, 5.2], [0.054, 4.0], [0.058, 5.0], [0.062, 3.2], [0.068, 2.0], [0.077, 0.9], [0.09, 0.2]],
  [[0.005, 0], [0.015, 0.6], [0.025, 1.3], [0.035, 1.9], [0.045, 2.2], [0.055, 2.0], [0.065, 1.5], [0.075, 0.9], [0.09, 0.3], [0.11, 0.05]],
  [[0.015, 0], [0.025, 0.5], [0.035, 1.1], [0.045, 1.6], [0.055, 2.0], [0.065, 2.1], [0.075, 1.8], [0.085, 1.3], [0.1, 0.6], [0.12, 0.1]],
  [[0.025, 0], [0.04, 0.7], [0.05, 1.4], [0.06, 1.9], [0.07, 2.2], [0.08, 2.0], [0.09, 1.5], [0.1, 0.9], [0.115, 0.3], [0.135, 0.04]],
  [[0.035, 0], [0.05, 0.6], [0.06, 1.2], [0.07, 1.8], [0.08, 2.1], [0.09, 2.0], [0.1, 1.6], [0.11, 1.0], [0.125, 0.35], [0.145, 0.04]],
  [[0.05, 0], [0.065, 0.7], [0.075, 1.4], [0.085, 1.9], [0.095, 2.2], [0.105, 2.0], [0.115, 1.5], [0.125, 0.9], [0.138, 0.3], [0.155, 0.04]],
  [[0.065, 0], [0.08, 0.6], [0.09, 1.3], [0.1, 1.9], [0.11, 2.1], [0.12, 1.9], [0.13, 1.4], [0.14, 0.8], [0.15, 0.3], [0.158, 0.05]],
  [[0.01, 0], [0.02, 0.9], [0.03, 1.8], [0.037, 2.4], [0.045, 2.7], [0.053, 2.5], [0.062, 1.9], [0.072, 1.1], [0.085, 0.4], [0.1, 0.06]],
  [[0.02, 0], [0.032, 0.9], [0.042, 1.9], [0.05, 2.5], [0.058, 2.8], [0.066, 2.6], [0.075, 2.0], [0.085, 1.2], [0.097, 0.45], [0.115, 0.06]],
  [[0.04, 0], [0.052, 0.9], [0.062, 1.9], [0.07, 2.5], [0.078, 2.8], [0.086, 2.6], [0.095, 2.0], [0.105, 1.2], [0.117, 0.45], [0.135, 0.06]],
  [[0.055, 0], [0.067, 0.9], [0.077, 1.9], [0.085, 2.5], [0.093, 2.8], [0.101, 2.6], [0.11, 2.0], [0.12, 1.2], [0.132, 0.45], [0.15, 0.06]],
  [[0.07, 0], [0.082, 0.9], [0.092, 1.9], [0.1, 2.5], [0.108, 2.8], [0.116, 2.6], [0.125, 2.0], [0.135, 1.2], [0.145, 0.45], [0.158, 0.05]],
  [[0.01, 0], [0.025, 0.3], [0.04, 0.8], [0.055, 1.2], [0.07, 1.3], [0.085, 1.1], [0.1, 0.7], [0.115, 0.3], [0.13, 0.08]],
  [[0.03, 0], [0.045, 0.3], [0.06, 0.8], [0.075, 1.2], [0.09, 1.3], [0.105, 1.1], [0.12, 0.7], [0.135, 0.3], [0.15, 0.06]],
  [[0.02, 0], [0.03, 0.4], [0.04, 1.0], [0.05, 1.4], [0.06, 1.5], [0.07, 1.3], [0.08, 0.9], [0.09, 0.5], [0.1, 0.2], [0.115, 0.03]],
  [[0.06, 0], [0.07, 0.4], [0.08, 1.0], [0.09, 1.4], [0.1, 1.5], [0.11, 1.3], [0.12, 0.9], [0.13, 0.5], [0.14, 0.2], [0.152, 0.03]],
  [[0.045, 0], [0.055, 0.5], [0.063, 1.2], [0.07, 2.0], [0.076, 3.0], [0.082, 3.3], [0.088, 3.0], [0.095, 2.2], [0.103, 1.3], [0.113, 0.5], [0.125, 0.1]],
  [[0.02, 0], [0.03, 0.5], [0.038, 1.2], [0.045, 2.0], [0.051, 2.9], [0.057, 3.2], [0.063, 2.9], [0.07, 2.1], [0.078, 1.2], [0.088, 0.5], [0.1, 0.1]],
  [[0.085, 0], [0.095, 0.5], [0.103, 1.2], [0.11, 2.0], [0.116, 2.9], [0.122, 3.2], [0.128, 2.9], [0.134, 2.1], [0.141, 1.2], [0.148, 0.5], [0.156, 0.1]],
];

const pdfRed: [number, number][][] = [
  [[0, 0.2], [0.003, 1.0], [0.005, 3.0], [0.007, 5.5], [0.0084, 7.5], [0.0095, 5.8], [0.011, 6.2], [0.013, 4.5], [0.015, 3.0], [0.018, 1.6], [0.022, 0.7], [0.03, 0.2], [0.045, 0.05]],
  [[0.005, 0], [0.008, 1.0], [0.011, 2.8], [0.013, 5.2], [0.0145, 4.6], [0.0171, 7.2], [0.019, 5.0], [0.021, 3.6], [0.024, 2.0], [0.028, 0.9], [0.035, 0.3], [0.05, 0.05]],
  [[0, 0], [0.005, 0.8], [0.009, 2.5], [0.011, 4.5], [0.013, 6.5], [0.015, 4.8], [0.017, 3.2], [0.02, 1.8], [0.025, 0.7], [0.035, 0.15]],
  [[0.01, 0], [0.02, 0.4], [0.026, 1.0], [0.031, 2.0], [0.036, 3.0], [0.04, 3.6], [0.043, 3.7], [0.047, 3.5], [0.052, 2.9], [0.058, 2.0], [0.065, 1.2], [0.073, 0.6], [0.085, 0.2], [0.1, 0.06], [0.13, 0.01]],
  [[0.015, 0], [0.022, 0.4], [0.028, 1.3], [0.033, 2.5], [0.038, 3.35], [0.042, 3.2], [0.047, 2.5], [0.053, 1.5], [0.06, 0.7], [0.07, 0.25], [0.09, 0.05]],
  [[0.01, 0], [0.025, 0.4], [0.035, 1.2], [0.043, 2.0], [0.05, 2.45], [0.058, 2.5], [0.066, 2.2], [0.075, 1.6], [0.085, 0.9], [0.1, 0.3], [0.12, 0.07], [0.14, 0.01]],
  [[0.03, 0], [0.045, 0.5], [0.055, 1.4], [0.062, 2.3], [0.068, 3.0], [0.072, 3.2], [0.077, 3.0], [0.083, 2.4], [0.09, 1.6], [0.098, 0.9], [0.108, 0.35], [0.12, 0.1], [0.14, 0.01]],
  [[0.04, 0], [0.055, 0.5], [0.065, 1.5], [0.072, 2.4], [0.078, 3.1], [0.083, 3.4], [0.088, 3.3], [0.094, 2.8], [0.1, 2.0], [0.108, 1.2], [0.117, 0.5], [0.13, 0.12], [0.15, 0.01]],
  [[0.05, 0], [0.065, 0.6], [0.075, 1.6], [0.083, 2.5], [0.089, 3.0], [0.094, 3.1], [0.1, 2.7], [0.107, 2.0], [0.115, 1.2], [0.125, 0.5], [0.135, 0.15], [0.15, 0.02]],
  [[0.08, 0.3], [0.09, 0.9], [0.097, 1.6], [0.104, 2.35], [0.111, 2.9], [0.1164, 3.1], [0.1205, 3.2], [0.126, 2.95], [0.1295, 0.85]],
  [[0.088, 2.6], [0.092, 4.2], [0.0968, 6.46], [0.1002, 4.43]],
  [[0.015, 0], [0.03, 0.5], [0.04, 1.4], [0.047, 2.0], [0.052, 2.3], [0.058, 2.2], [0.065, 1.7], [0.073, 1.0], [0.082, 0.45], [0.095, 0.12], [0.115, 0.02]],
  [[0.02, 0], [0.04, 0.5], [0.05, 1.2], [0.058, 1.8], [0.064, 2.0], [0.071, 1.9], [0.079, 1.4], [0.088, 0.8], [0.1, 0.3], [0.12, 0.05]],
  [[0.02, 0], [0.035, 0.5], [0.045, 1.3], [0.052, 2.0], [0.059, 2.4], [0.066, 2.3], [0.074, 1.8], [0.083, 1.1], [0.093, 0.5], [0.107, 0.15], [0.125, 0.02]],
  [[0.035, 0], [0.05, 0.4], [0.06, 1.0], [0.068, 1.6], [0.075, 1.9], [0.083, 1.8], [0.092, 1.3], [0.102, 0.7], [0.115, 0.25], [0.135, 0.03]],
  [[0.045, 0], [0.06, 0.4], [0.07, 1.0], [0.08, 1.7], [0.088, 2.1], [0.096, 2.0], [0.105, 1.5], [0.115, 0.8], [0.127, 0.3], [0.145, 0.03]],
  [[0.06, 0], [0.075, 0.5], [0.085, 1.3], [0.093, 2.0], [0.1, 2.5], [0.107, 2.3], [0.114, 1.7], [0.122, 0.9], [0.132, 0.35], [0.145, 0.08], [0.157, 0.01]],
  [[0, 0], [0.01, 0.3], [0.02, 1.0], [0.027, 1.5], [0.032, 1.6], [0.038, 1.4], [0.046, 0.9], [0.056, 0.4], [0.07, 0.1], [0.09, 0.02]],
  [[0.005, 0], [0.02, 0.3], [0.032, 0.8], [0.042, 1.15], [0.05, 1.2], [0.06, 1.0], [0.072, 0.6], [0.085, 0.25], [0.1, 0.06]],
  [[0, 0], [0.008, 0.5], [0.014, 1.4], [0.018, 2.0], [0.021, 2.2], [0.025, 1.9], [0.03, 1.2], [0.037, 0.5], [0.047, 0.15], [0.06, 0.03]],
  [[0, 1.5], [0.003, 2.0], [0.006, 2.3], [0.01, 1.8], [0.015, 1.0], [0.022, 0.4], [0.03, 0.1]],
  [[0.025, 0], [0.04, 0.6], [0.05, 1.5], [0.057, 2.2], [0.063, 2.5], [0.07, 2.4], [0.078, 1.9], [0.087, 1.2], [0.097, 0.55], [0.11, 0.15], [0.13, 0.02]],
  [[0.055, 0], [0.07, 0.6], [0.08, 1.5], [0.087, 2.2], [0.094, 2.6], [0.1, 2.5], [0.108, 2.0], [0.117, 1.2], [0.127, 0.5], [0.14, 0.12], [0.155, 0.01]],
  [[0.09, 0], [0.1, 0.5], [0.108, 1.2], [0.115, 1.8], [0.121, 2.0], [0.127, 1.8], [0.134, 1.2], [0.141, 0.6], [0.148, 0.2], [0.156, 0.02]],
  [[0.03, 0], [0.045, 0.5], [0.055, 1.2], [0.063, 1.8], [0.07, 2.1], [0.077, 2.0], [0.085, 1.5], [0.095, 0.8], [0.107, 0.3], [0.125, 0.04]],
  [[0.04, 0], [0.055, 0.4], [0.067, 1.1], [0.077, 1.7], [0.085, 1.9], [0.093, 1.8], [0.102, 1.3], [0.112, 0.7], [0.124, 0.25], [0.14, 0.03]],
  [[0.01, 0], [0.02, 0.5], [0.028, 1.3], [0.034, 2.0], [0.039, 2.3], [0.045, 2.1], [0.052, 1.5], [0.06, 0.8], [0.07, 0.3], [0.085, 0.05]],
  [[0.07, 0], [0.085, 0.5], [0.095, 1.3], [0.103, 2.0], [0.11, 2.3], [0.117, 2.1], [0.124, 1.5], [0.132, 0.8], [0.141, 0.3], [0.152, 0.05]],
  [[0.02, 0], [0.035, 0.3], [0.048, 0.9], [0.058, 1.4], [0.066, 1.6], [0.075, 1.5], [0.085, 1.1], [0.096, 0.6], [0.11, 0.2], [0.13, 0.03]],
  [[0.06, 0], [0.075, 0.3], [0.088, 0.9], [0.098, 1.4], [0.106, 1.6], [0.115, 1.5], [0.124, 1.1], [0.134, 0.6], [0.145, 0.2], [0.157, 0.02]],
];

const pdfGreen: [number, number][][] = [
  [[0, 3], [0.0005, 13.7], [0.0015, 7.0], [0.003, 3.0], [0.005, 1.2], [0.008, 0.3], [0.012, 0.05]],
  [[0, 0], [0.001, 4.5], [0.002, 7.7], [0.004, 5.5], [0.006, 3.0], [0.009, 1.2], [0.013, 0.3]],
  [[0, 0], [0.002, 3.0], [0.004, 5.0], [0.006, 4.0], [0.008, 5.5], [0.01, 3.5], [0.013, 1.8], [0.017, 0.6], [0.022, 0.1]],
  [[0.02, 0], [0.025, 0.5], [0.029, 1.5], [0.032, 3.0], [0.0335, 6.0], [0.0347, 10.45], [0.0352, 7.5], [0.0356, 5.6]],
  [[0.028, 1.5], [0.031, 2.5], [0.033, 4.0], [0.0345, 8.3], [0.0352, 6.0]],
  [[0.012, 0], [0.016, 1.0], [0.019, 2.5], [0.0205, 4.0], [0.0219, 6.1], [0.023, 3.5], [0.025, 1.5], [0.028, 0.5], [0.033, 0.1]],
  [[0.015, 0], [0.02, 0.8], [0.024, 1.8], [0.027, 3.5], [0.0286, 5.45], [0.0298, 3.6], [0.0313, 5.0], [0.033, 3.0], [0.036, 1.3], [0.04, 0.4], [0.046, 0.1]],
  [[0, 0], [0.003, 0.6], [0.006, 1.8], [0.008, 3.0], [0.0097, 3.7], [0.012, 3.4], [0.015, 2.3], [0.019, 1.1], [0.024, 0.4], [0.032, 0.08]],
  [[0.005, 0], [0.015, 0.4], [0.022, 1.2], [0.028, 2.0], [0.033, 2.5], [0.0354, 2.6], [0.039, 2.4], [0.044, 1.8], [0.05, 1.0], [0.057, 0.4], [0.065, 0.1]],
  [[0, 0], [0.006, 0.4], [0.011, 1.5], [0.015, 2.9], [0.018, 3.5], [0.021, 3.2], [0.025, 2.1], [0.03, 1.0], [0.036, 0.35], [0.045, 0.07]],
  [[0.002, 0], [0.01, 0.4], [0.016, 1.2], [0.021, 1.8], [0.025, 2.0], [0.029, 1.8], [0.034, 1.2], [0.04, 0.55], [0.048, 0.15]],
  [[0, 0], [0.004, 0.8], [0.008, 2.5], [0.011, 3.6], [0.013, 3.9], [0.016, 3.0], [0.02, 1.6], [0.025, 0.6], [0.032, 0.1]],
  [[0, 0], [0.0015, 3.0], [0.003, 6.5], [0.0045, 3.5], [0.006, 5.0], [0.008, 2.5], [0.011, 1.0], [0.015, 0.2]],
  [[0, 0], [0.003, 1.5], [0.006, 3.2], [0.009, 2.6], [0.012, 3.0], [0.015, 2.0], [0.019, 1.0], [0.024, 0.3]],
  [[0.005, 0], [0.012, 0.6], [0.018, 1.6], [0.022, 2.6], [0.0255, 2.9], [0.03, 2.3], [0.035, 1.3], [0.041, 0.5], [0.05, 0.1]],
  [[0, 0.5], [0.002, 2.0], [0.004, 1.2], [0.006, 2.4], [0.009, 1.5], [0.012, 0.6], [0.017, 0.15]],
];

const pdfBlue: [number, number][][] = [
  [[0, 0], [0.003, 0.58], [0.0057, 4.23], [0.0081, 10.3], [0.0104, 14.36], [0.0117, 10.7], [0.0131, 6.1], [0.0144, 3.82], [0.0165, 2.07], [0.0192, 1.12], [0.0232, 0.51], [0.03, 0.24], [0.046, 0.11], [0.073, 0.04], [0.127, 0.01]],
  [[0, 0], [0.005, 0.3], [0.009, 1.2], [0.012, 2.6], [0.014, 3.8], [0.0158, 4.5], [0.0175, 4.3], [0.0195, 3.2], [0.022, 1.9], [0.025, 0.95], [0.03, 0.35], [0.04, 0.12], [0.06, 0.05], [0.1, 0.02]],
  [[0, 0], [0.004, 0.2], [0.008, 0.9], [0.011, 2.0], [0.013, 2.9], [0.0144, 3.3], [0.016, 3.2], [0.018, 2.6], [0.021, 1.6], [0.025, 0.8], [0.03, 0.35], [0.04, 0.12], [0.07, 0.03]],
  [[0, 0], [0.01, 0.1], [0.015, 0.4], [0.02, 1.0], [0.025, 2.0], [0.029, 3.0], [0.032, 3.55], [0.0347, 3.75], [0.037, 3.7], [0.04, 3.2], [0.044, 2.4], [0.049, 1.5], [0.055, 0.75], [0.062, 0.35], [0.075, 0.12], [0.1, 0.04], [0.14, 0.01]],
  [[0.005, 0], [0.015, 0.2], [0.02, 0.5], [0.025, 1.2], [0.03, 2.2], [0.035, 3.2], [0.04, 3.75], [0.043, 3.6], [0.047, 3.0], [0.051, 2.2], [0.056, 1.3], [0.062, 0.65], [0.07, 0.25], [0.08, 0.1], [0.1, 0.03], [0.13, 0.01]],
];

const pdfYTicks = [0, 5, 10, 15];
const pdfXTicks = [0, 0.16];

// ---------------- layout ----------------
const SERIF = "'Liberation Serif', 'Times New Roman', serif";
const SANS = "'Liberation Sans', Arial, sans-serif";
const A = { l: 104, r: 499, t: 70, b: 464 };
const B = { l: 659, r: 1054, t: 70, b: 464 };
const legendLineX = [55, 312, 611, 878];
const legendTextX = [117, 374, 672, 939];
const TICK = '#777';
const FRAME = '#333';

export default function App() {
  const xA = d3.scaleLog().domain([1e-2, 1e1]).range([A.l, A.r]);
  const yA = d3.scaleLog().domain([1e-5, 1]).range([A.b, A.t]);
  const xB = d3.scaleLinear().domain([0, 0.16]).range([B.l, B.r]);
  const yB = d3.scaleLinear().domain([0, 16]).range([B.b, B.t]);

  const lineA = d3.line<[number, number]>().x(d => xA(d[0])).y(d => yA(d[1]));
  const lineBLin = d3.line<[number, number]>().x(d => xB(d[0])).y(d => yB(d[1]));
  const lineB = d3.line<[number, number]>().x(d => xB(d[0])).y(d => yB(d[1])).curve(d3.curveMonotoneX);
  const grid = (c: GridCurve) => c.v.map((p, i) => [wavenumbers[c.s + i], p] as [number, number]);

  const isMajor = (t: number) => Math.abs(Math.log10(t) - Math.round(Math.log10(t))) < 1e-6;
  const xTicksA = xA.ticks();
  const yTicksA = yA.ticks();

  const expLabel = (t: number) => {
    const e = Math.round(Math.log10(t));
    return e < 0 ? '\u2212' + Math.abs(e) : String(e);
  };

  return (
    <svg width={1113} height={540} style={{ position: 'absolute', left: 0, top: 0, background: '#fff' }}>
      <defs>
        <clipPath id="clipA"><rect x={A.l} y={A.t} width={A.r - A.l} height={A.b - A.t} /></clipPath>
        <clipPath id="clipB"><rect x={B.l} y={B.t} width={B.r - B.l} height={B.b - B.t} /></clipPath>
        <marker id="arrowHead" viewBox="0 0 10 10" refX="9" refY="5" markerWidth="7" markerHeight="7" orient="auto">
          <path d="M0,1 L10,5 L0,9 L3,5 Z" fill="#222" />
        </marker>
      </defs>
      <rect x={0} y={0} width={1113} height={540} fill="#fff" />

      {/* legend */}
      <rect x={42.5} y={-20} width={1200} height={59.5} fill="none" stroke={FRAME} strokeWidth={1.3} />
      {legendLabels.map((lab, i) => (
        <g key={lab}>
          <line x1={legendLineX[i]} x2={legendLineX[i] + 44} y1={16} y2={16} stroke={legendColors[i]} strokeWidth={i === 3 ? 2 : 1.6} />
          <text x={legendTextX[i]} y={24} fontFamily={SERIF} fontSize={20.5} fill="#111">{lab}</text>
        </g>
      ))}

      {/* ---------- panel (a) ---------- */}
      <g clipPath="url(#clipA)">
        {psGray.map((c, i) => <path key={'ag' + i} d={lineA(grid(c)) || ''} fill="none" stroke="#999" strokeWidth={1.4} />)}
        {psRed.map((c, i) => <path key={'ar' + i} d={lineA(grid(c)) || ''} fill="none" stroke="#ff0000" strokeWidth={1.2} />)}
        {psGreen.map((c, i) => <path key={'agr' + i} d={lineA(grid(c)) || ''} fill="none" stroke="#00ee00" strokeWidth={1.2} />)}
        {psBlue.map((c, i) => <path key={'ab' + i} d={lineA(c) || ''} fill="none" stroke="#0000ff" strokeWidth={3.2} />)}
      </g>
      {xTicksA.map((t, i) => {
        const len = isMajor(t) ? 10 : 6.5;
        const x = xA(t);
        return (
          <g key={'xta' + i}>
            <line x1={x} x2={x} y1={A.b} y2={A.b - len} stroke={TICK} />
            <line x1={x} x2={x} y1={A.t} y2={A.t + len} stroke={TICK} />
          </g>
        );
      })}
      {yTicksA.map((t, i) => {
        const len = isMajor(t) ? 10 : 6.5;
        const y = yA(t);
        return (
          <g key={'yta' + i}>
            <line x1={A.l} x2={A.l + len} y1={y} y2={y} stroke={TICK} />
            <line x1={A.r} x2={A.r - len} y1={y} y2={y} stroke={TICK} />
          </g>
        );
      })}
      <rect x={A.l} y={A.t} width={A.r - A.l} height={A.b - A.t} fill="none" stroke={FRAME} strokeWidth={1.3} />
      {xTicksA.filter(isMajor).map((t, i) => (
        <text key={'xla' + i} x={xA(t) + 2} y={492} textAnchor="middle" fontFamily={SERIF} fontSize={20} fill="#111">
          10<tspan dy={-8} fontSize={14}>{expLabel(t)}</tspan>
        </text>
      ))}
      {yTicksA.filter(isMajor).map((t, i) => (
        <text key={'yla' + i} x={93} y={yA(t) + 8} textAnchor="end" fontFamily={SERIF} fontSize={20} fill="#111">
          10<tspan dy={-8} fontSize={14}>{expLabel(t)}</tspan>
        </text>
      ))}
      <text x={(A.l + A.r) / 2} y={523} textAnchor="middle" fontFamily={SERIF} fontSize={25.5} fill="#111">Wavenumber</text>
      <text transform={`translate(30,${(A.t + A.b) / 2}) rotate(-90)`} textAnchor="middle" fontFamily={SERIF} fontSize={25.5} fill="#111">PS</text>
      <text x={129} y={110} fontFamily={SERIF} fontSize={25} fontWeight="bold" fill="#111">(a)</text>
      <line x1={xA(0.0445)} y1={yA(0.00147)} x2={xA(0.075)} y2={yA(0.0135)} stroke="#333" strokeWidth={0.8} markerEnd="url(#arrowHead)" />
      <text x={137} y={315} fontFamily={SANS} fontSize={23} fill="#111">IC surface</text>

      {/* ---------- panel (b) ---------- */}
      <g clipPath="url(#clipB)">
        {pdfGray.map((c, i) => <path key={'bg' + i} d={lineBLin(c) || ''} fill="none" stroke="#999" strokeWidth={1.4} />)}
        {pdfRed.map((c, i) => <path key={'br' + i} d={lineB(c) || ''} fill="none" stroke="#ff0000" strokeWidth={1.3} />)}
        {pdfGreen.map((c, i) => <path key={'bgr' + i} d={lineBLin(c) || ''} fill="none" stroke="#00ee00" strokeWidth={1.3} />)}
        {pdfBlue.map((c, i) => <path key={'bb' + i} d={lineB(c) || ''} fill="none" stroke="#0000ff" strokeWidth={1.7} />)}
      </g>
      {pdfYTicks.map((t, i) => (
        <g key={'ytb' + i}>
          <line x1={B.l} x2={B.l + 10} y1={yB(t)} y2={yB(t)} stroke={TICK} />
          <line x1={B.r} x2={B.r - 10} y1={yB(t)} y2={yB(t)} stroke={TICK} />
          <text x={650} y={yB(t) + 8} textAnchor="end" fontFamily={SERIF} fontSize={20} fill="#111">{t}</text>
        </g>
      ))}
      <rect x={B.l} y={B.t} width={B.r - B.l} height={B.b - B.t} fill="none" stroke={FRAME} strokeWidth={1.3} />
      {pdfXTicks.map((t, i) => (
        <text key={'xlb' + i} x={xB(t) + 2} y={492} textAnchor="middle" fontFamily={SERIF} fontSize={20} fill="#111">{t}</text>
      ))}
      <text x={(B.l + B.r) / 2} y={524} textAnchor="middle" fontFamily={SERIF} fontSize={25.5} fill="#111">
        <tspan fontStyle="italic">k</tspan>/H
      </text>
      <text transform={`translate(631,${(B.t + B.b) / 2}) rotate(-90)`} textAnchor="middle" fontFamily={SERIF} fontSize={25.5} fill="#111">PDF</text>
      <text x={693} y={110} fontFamily={SERIF} fontSize={25} fontWeight="bold" fill="#111">(b)</text>
      <line x1={xB(0.0274)} y1={yB(12.86)} x2={xB(0.0119)} y2={yB(14.0)} stroke="#333" strokeWidth={0.8} markerEnd="url(#arrowHead)" />
      <text x={730} y={173} fontFamily={SANS} fontSize={23} fill="#111">IC surface</text>
    </svg>
  );
}
